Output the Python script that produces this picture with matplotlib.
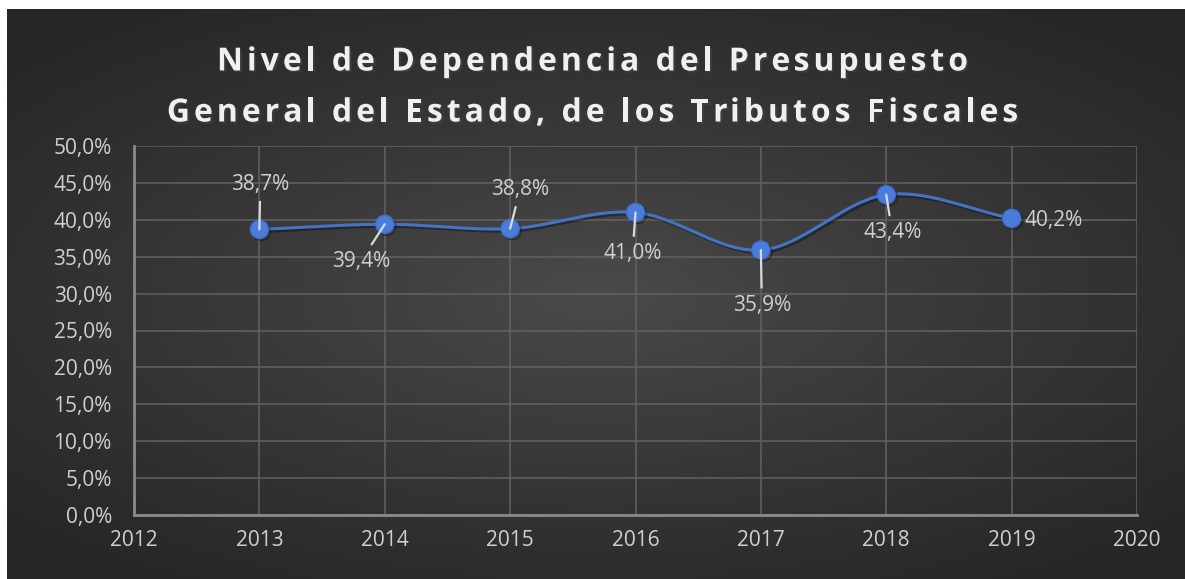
import numpy as np
import matplotlib.pyplot as plt
import matplotlib.patheffects as pe
from matplotlib.ticker import FuncFormatter
from matplotlib.font_manager import FontProperties
from matplotlib.textpath import text_to_path

# datos
years = [2013, 2014, 2015, 2016, 2017, 2018, 2019]
values = [38.7, 39.4, 38.8, 41.0, 35.9, 43.4, 40.2]
labels = ["38,7%", "39,4%", "38,8%", "41,0%", "35,9%", "43,4%", "40,2%"]
# desplazamiento de cada etiqueta en pixeles (dx, dy)
label_offsets = [(1, 45), (-24, -37), (10, 39), (-3, -41), (1, -55), (6, -38), (42, -2)]

title_lines = ["Nivel de Dependencia del Presupuesto",
               "General del Estado, de los Tributos Fiscales"]

W, H = 1185, 579
fig = plt.figure(figsize=(W / 100, H / 100), dpi=100)
fig.patch.set_facecolor("white")

# fondo con degradado radial (gris oscuro)
bg = fig.add_axes([7 / W, 0, 1 - 7 / W, 1 - 9 / H], zorder=-10)
gx, gy = np.meshgrid(np.linspace(-1, 1, 500), np.linspace(-1, 1, 250))
r = np.sqrt((gx * 0.9) ** 2 + (gy * 1.0) ** 2)
g = 0.15 + 0.14 * np.clip(1 - r / 1.25, 0, 1) ** 1.1
bg.imshow(np.dstack([g, g, g]), aspect="auto", extent=[0, 1, 0, 1])
bg.axis("off")

left, right, top, bottom = 134, 1137, 146, 515
ax = fig.add_axes([left / W, 1 - bottom / H, (right - left) / W, (bottom - top) / H])
ax.set_facecolor("none")

# curva suavizada (estilo Excel, Catmull-Rom)
xs, ys = np.array(years, float), np.array(values, float)
px = np.concatenate([[2 * xs[0] - xs[1]], xs, [2 * xs[-1] - xs[-2]]])
py = np.concatenate([[2 * ys[0] - ys[1]], ys, [2 * ys[-1] - ys[-2]]])
cx, cy = [], []
t = np.linspace(0, 1, 40)
for i in range(1, len(px) - 2):
    p0, p1, p2, p3 = [np.array([px[j], py[j]]) for j in range(i - 1, i + 3)]
    b1 = p1 + (p2 - p0) / 6
    b2 = p2 - (p3 - p1) / 6
    seg = ((1 - t) ** 3)[:, None] * p1 + (3 * (1 - t) ** 2 * t)[:, None] * b1 \
        + (3 * (1 - t) * t ** 2)[:, None] * b2 + (t ** 3)[:, None] * p2
    cx.extend(seg[:, 0]); cy.extend(seg[:, 1])

shadow = [pe.SimpleLineShadow(offset=(1.5, -1.5), shadow_color="black", alpha=0.35), pe.Normal()]
ax.plot(cx, cy, color="#4472c4", lw=2.2, zorder=3, path_effects=shadow)
ax.plot(years, values, "o", ms=13, color="#4a7ddb", mec="#3f6fcc", mew=1,
        zorder=4, path_effects=shadow)

for x, y, lab, (dx, dy) in zip(years, values, labels, label_offsets):
    # linea guia solo cuando la etiqueta esta lejos del punto
    arrow = None
    if abs(dy) > 10:
        arrow = dict(arrowstyle="-", color="#d9d9d9", lw=1.6, shrinkA=3, shrinkB=0)
    ax.annotate(lab, (x, y), xytext=(dx, dy), textcoords="offset pixels",
                ha="center", va="center", color="#d0d0d0", fontsize=15,
                family="Open Sans", zorder=5, arrowprops=arrow)

ax.set_xlim(2012, 2020)
ax.set_ylim(0, 50)
ax.set_xticks(range(2012, 2021))
ax.set_yticks(np.arange(0, 51, 5))
ax.yaxis.set_major_formatter(FuncFormatter(lambda v, p: f"{v:.1f}%".replace(".", ",")))
ax.grid(True, color="#626262", lw=1.1)
ax.set_axisbelow(True)
for s in ["top", "right"]:
    ax.spines[s].set_visible(False)
for s in ["left", "bottom"]:
    ax.spines[s].set_color("#8a8a8a")
    ax.spines[s].set_linewidth(2)
ax.tick_params(length=0, colors="#d0d0d0", labelsize=15)
ax.tick_params(axis="y", pad=16)
ax.tick_params(axis="x", pad=11)
for lab in ax.get_xticklabels() + ax.get_yticklabels():
    lab.set_family("Open Sans")

# titulo con espaciado entre letras
tprop = FontProperties(family="Open Sans", weight="bold", size=23)
spacing = 4.0  # pixeles extra por letra
px_per_pt = 100 / 72


def text_w(s):
    w, _, _ = text_to_path.get_text_width_height_descent(s + "|", tprop, ismath=False)
    w0, _, _ = text_to_path.get_text_width_height_descent("|", tprop, ismath=False)
    return (w - w0) * px_per_pt


tshadow = [pe.withSimplePatchShadow(offset=(1.5, -1.5), alpha=0.45)]
for line, yc in zip(title_lines, [58, 109]):
    total = text_w(line) + spacing * (len(line) - 1)
    x0 = W / 2 - total / 2
    for i, ch in enumerate(line):
        if ch == " ":
            continue
        xp = x0 + text_w(line[:i]) + spacing * i
        fig.text(xp / W, 1 - yc / H, ch, ha="left", va="center_baseline",
                 color="#f0f0f0", fontproperties=tprop, path_effects=tshadow)

fig.savefig("out.png", dpi=100)
